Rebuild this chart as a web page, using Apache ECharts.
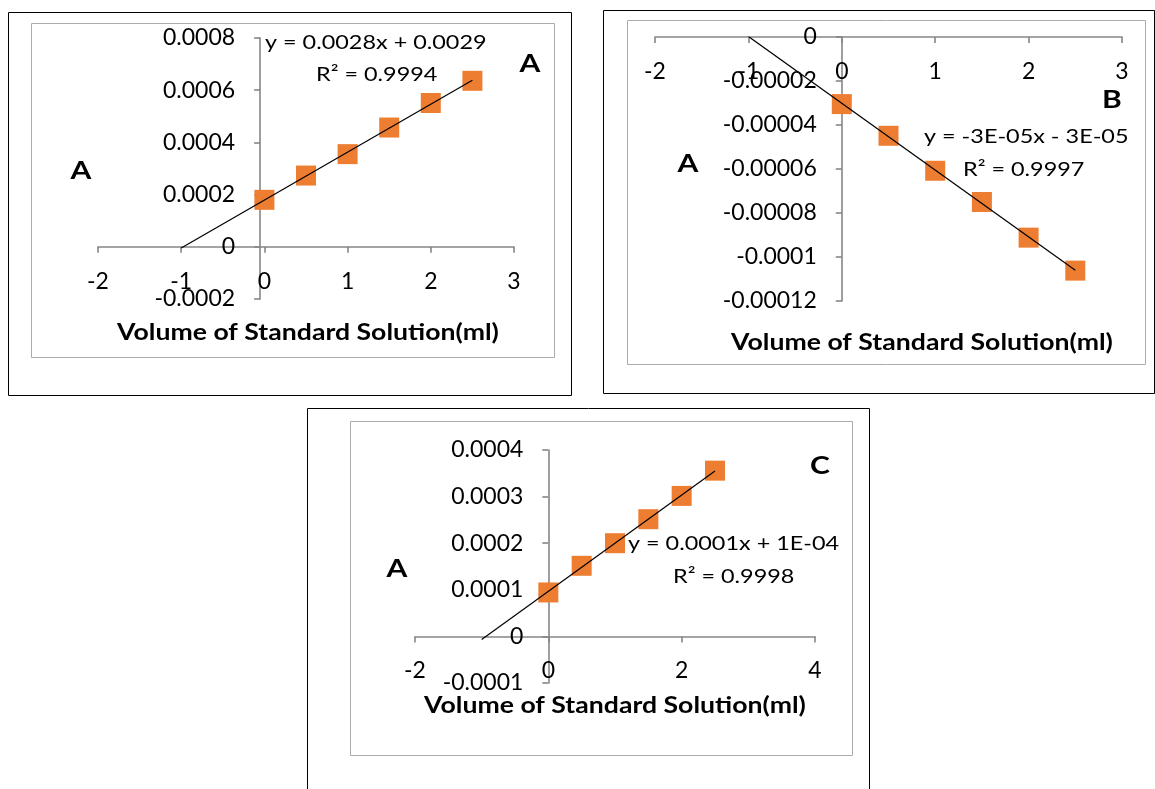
<!DOCTYPE html>
<html>
<head>
<meta charset="utf-8">
<script src="https://cdn.jsdelivr.net/npm/echarts@6/dist/echarts.min.js"></script>
<style>
  html, body { margin: 0; padding: 0; background: #fff; }
  #chart { width: 1155px; height: 789px; }
</style>
</head>
<body>
<div id="chart"></div>
<script>
// Volumes of standard solution added (ml), shared by all three calibrations
const volumes = [0, 0.5, 1, 1.5, 2, 2.5];

// Absorbance readings for each calibration
const absorbA = [0.000180, 0.000273, 0.000355, 0.000457, 0.000551, 0.000636];
const absorbB = [-0.0000305, -0.0000449, -0.0000608, -0.0000750, -0.0000912, -0.0001062];
const absorbC = [0.0000943, 0.0001515, 0.0002000, 0.0002515, 0.0003015, 0.0003557];

// Axis ticks
const xTicksA = ['-2', '-1', '0', '1', '2', '3'];
const yTicksA = ['-0.0002', '0', '0.0002', '0.0004', '0.0006', '0.0008'];
const xTicksB = ['-2', '-1', '0', '1', '2', '3'];
const yTicksB = ['-0.00012', '-0.0001', '-0.00008', '-0.00006', '-0.00004', '-0.00002', '0'];
const xTicksC = ['-2', '0', '2', '4'];
const yTicksC = ['-0.0001', '0', '0.0001', '0.0002', '0.0003', '0.0004'];

// Trendline annotations
const eqA = 'y = 0.0028x + 0.0029', r2A = 'R\u00B2 = 0.9994';
const eqB = 'y = -3E-05x - 3E-05', r2B = 'R\u00B2 = 0.9997';
const eqC = 'y = 0.0001x + 1E-04', r2C = 'R\u00B2 = 0.9998';

// Trendline range: one unit of backward forecast, ending at the last volume
const trendFrom = -1;

const xName = 'Volume of Standard Solution(ml)';
const FONT = 'Lato';
const AXIS_GREY = '#868686';

function linearFit(xs, ys) {
  const n = xs.length;
  const mx = xs.reduce((a, b) => a + b, 0) / n;
  const my = ys.reduce((a, b) => a + b, 0) / n;
  let sxy = 0, sxx = 0;
  for (let i = 0; i < n; i++) {
    sxy += (xs[i] - mx) * (ys[i] - my);
    sxx += (xs[i] - mx) * (xs[i] - mx);
  }
  const slope = sxy / sxx;
  return { slope, intercept: my - slope * mx };
}

function trendPoints(xs, ys) {
  const f = linearFit(xs, ys);
  const xEnd = xs[xs.length - 1];
  return [[trendFrom, f.slope * trendFrom + f.intercept], [xEnd, f.slope * xEnd + f.intercept]];
}

function ticksAxis(ticks) {
  const vals = ticks.map(Number);
  return { min: vals[0], max: vals[vals.length - 1], interval: vals[1] - vals[0] };
}

function labelFor(ticks) {
  const t = ticksAxis(ticks);
  return v => ticks[Math.round((v - t.min) / t.interval)];
}

// Axes are shifted onto the zero lines with offsets (computed below) so the
// tick labels travel with the axis lines.
const axisLineStyle = { show: true, onZero: false, lineStyle: { color: AXIS_GREY, width: 1.6 } };
const tickStyle = { show: true, length: 6, lineStyle: { color: AXIS_GREY, width: 1.6 } };
const labelStyle = { color: '#000', fontFamily: FONT, fontSize: 23 };

function makeX(grid, ticks) {
  return Object.assign({
    type: 'value', gridIndex: grid, position: 'bottom', offset: 0,
    axisLine: axisLineStyle, axisTick: tickStyle,
    axisLabel: Object.assign({ margin: 23, formatter: labelFor(ticks) }, labelStyle),
    splitLine: { show: false }
  }, ticksAxis(ticks));
}

function makeY(grid, ticks) {
  return Object.assign({
    type: 'value', gridIndex: grid, position: 'left', offset: 0,
    axisLine: axisLineStyle, axisTick: tickStyle,
    axisLabel: Object.assign({ margin: 25, formatter: labelFor(ticks) }, labelStyle),
    splitLine: { show: false }
  }, ticksAxis(ticks));
}

function pointsOf(ys) { return volumes.map((v, i) => [v, ys[i]]); }

function seriesFor(idx, ys) {
  return [
    {
      type: 'scatter', xAxisIndex: idx, yAxisIndex: idx,
      data: pointsOf(ys), symbol: 'rect', symbolSize: 20,
      itemStyle: { color: '#ED7D31', opacity: 1 }, z: 2, silent: true
    },
    {
      type: 'line', xAxisIndex: idx, yAxisIndex: idx,
      data: trendPoints(volumes, ys), showSymbol: false, symbol: 'none',
      lineStyle: { color: '#000', width: 1.2 }, z: 3, silent: true
    }
  ];
}

function box(x1, y1, x2, y2, color, width) {
  return {
    type: 'rect', silent: true, z: -1,
    shape: { x: x1, y: y1, width: x2 - x1, height: y2 - y1 },
    style: { fill: 'none', stroke: color, lineWidth: width }
  };
}

function text(str, x, y, opts, sx) {
  return {
    type: 'text', silent: true, x: x, y: y, scaleX: sx || 1.17,
    style: Object.assign({
      text: str, fill: '#000', fontFamily: FONT, fontSize: 20,
      align: 'left', verticalAlign: 'middle'
    }, opts || {})
  };
}

const bold = { fontWeight: 'bold', fontSize: 25, align: 'center' };
const nameStyle = { fontWeight: 'bold', fontSize: 22, align: 'center' };
const NAME_SX = 1.21, LETTER_SX = 1.2;

const grids = [
  { left: 98, right: 641, top: 38, bottom: 490 },
  { left: 655, right: 33, top: 37, bottom: 488 },
  { left: 415, right: 340, top: 450, bottom: 106 }
];

const chart = echarts.init(document.getElementById('chart'), null, { renderer: 'canvas' });

chart.setOption({
  backgroundColor: '#fff',
  animation: false,
  grid: grids,
  xAxis: [makeX(0, xTicksA), makeX(1, xTicksB), makeX(2, xTicksC)],
  yAxis: [makeY(0, yTicksA), makeY(1, yTicksB), makeY(2, yTicksC)],
  series: [].concat(seriesFor(0, absorbA), seriesFor(1, absorbB), seriesFor(2, absorbC)),
  graphic: [
    // panel frames
    box(8.5, 12.5, 571.5, 395.5, '#000', 1),
    box(31.5, 23.5, 554.5, 357.5, '#ababab', 1),
    box(603.5, 10.5, 1154.5, 393.5, '#000', 1),
    box(627.5, 20.5, 1145.5, 364.5, '#ababab', 1),
    box(307.5, 408.5, 869.5, 795, '#000', 1),
    box(350.5, 421.5, 852.5, 755.5, '#ababab', 1),

    // panel A
    text(eqA, 265, 43),
    text(r2A, 316, 75),
    text('A', 530, 64, bold, LETTER_SX),
    text('A', 81, 171, bold, LETTER_SX),
    text(xName, 308, 333, nameStyle, NAME_SX),

    // panel B
    text(eqB, 924, 137),
    text(r2B, 963, 170),
    text('B', 1112, 100, bold, LETTER_SX),
    text('A', 688, 164, bold, LETTER_SX),
    text(xName, 922, 343, nameStyle, NAME_SX),

    // panel C
    text(eqC, 628, 544),
    text(r2C, 673, 577),
    text('C', 820, 466, bold, LETTER_SX),
    text('A', 397, 569, bold, LETTER_SX),
    text(xName, 615, 706, nameStyle, NAME_SX)
  ]
});

// Move each pair of axes so they cross at (0, 0) of their own scales.
const xAxes = [xTicksA, xTicksB, xTicksC].map(ticksAxis);
const yAxes = [yTicksA, yTicksB, yTicksC].map(ticksAxis);
const xOffsets = [], yOffsets = [];
for (let i = 0; i < 3; i++) {
  const zero = chart.convertToPixel({ gridIndex: i }, [0, 0]);
  const corner = chart.convertToPixel({ gridIndex: i }, [xAxes[i].min, yAxes[i].min]);
  xOffsets.push({ offset: zero[1] - corner[1] });
  yOffsets.push({ offset: corner[0] - zero[0] });
}
chart.setOption({ xAxis: xOffsets, yAxis: yOffsets });
</script>
</body>
</html>
